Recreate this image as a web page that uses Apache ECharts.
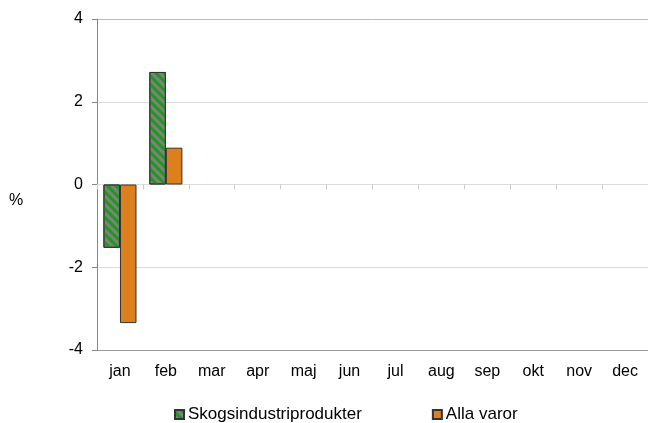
<!DOCTYPE html>
<html>
<head>
<meta charset="utf-8">
<script src="https://cdn.jsdelivr.net/npm/echarts@6/dist/echarts.min.js"></script>
<style>
body { margin: 0; background: #fff; }
#main { width: 648px; height: 423px; }
</style>
</head>
<body>
<div id="main"></div>
<script>
// data
var months = ['jan', 'feb', 'mar', 'apr', 'maj', 'jun', 'jul', 'aug', 'sep', 'okt', 'nov', 'dec'];
var skog = [-1.53, 2.72, null, null, null, null, null, null, null, null, null, null];
var alla = [-3.35, 0.89, null, null, null, null, null, null, null, null, null, null];
var seriesNames = ['Skogsindustriprodukter', 'Alla varor'];

var chartDom = document.getElementById('main');
var myChart = echarts.init(chartDom);
var option;

option = {
    animation: false,
    textStyle: { fontFamily: 'Liberation Sans, Arial, sans-serif' },
    grid: { left: 97, top: 19, width: 555, height: 331 },
    graphic: [
        { type: 'text', left: 9, top: 193, style: { text: '%', fontSize: 16, fill: '#000', fontFamily: 'Liberation Sans' } }
    ],
    legend: {
        top: 406,
        left: 174,
        padding: 0,
        icon: 'rect',
        itemWidth: 9,
        itemHeight: 9,
        itemGap: 70,
        textStyle: { fontSize: 17, color: '#000', padding: [0, 0, 0, -1] },
        data: seriesNames
    },
    xAxis: [
        {
            type: 'category',
            data: months,
            position: 'bottom',
            axisLine: { onZero: false, lineStyle: { color: '#999' } },
            axisTick: { show: false },
            axisLabel: { fontSize: 16, color: '#000', margin: 14 }
        },
        {
            // zero line with the small ticks between months
            type: 'category',
            data: months,
            position: 'bottom',
            axisLine: { onZero: true, lineStyle: { color: '#ddd' } },
            axisTick: { show: true, length: 5, lineStyle: { color: '#ccc' } },
            axisLabel: { show: false }
        }
    ],
    yAxis: {
        type: 'value',
        min: -4,
        max: 4,
        interval: 2,
        axisLine: { show: true, lineStyle: { color: '#888' } },
        axisTick: { show: true, length: 5, lineStyle: { color: '#888' } },
        axisLabel: { fontSize: 16, color: '#000', margin: 14 },
        splitLine: { lineStyle: { color: ['#999', '#ddd', '#ddd', '#ddd', '#bbb'] } }
    },
    series: [
        {
            name: seriesNames[0],
            type: 'bar',
            xAxisIndex: 0,
            data: skog,
            barGap: 0,
            barCategoryGap: '28%',
            itemStyle: {
                color: '#808080',
                borderColor: '#333',
                borderWidth: 1,
                decal: {
                    symbol: 'rect',
                    color: '#1c9a1c',
                    dashArrayX: [1, 0],
                    dashArrayY: [2.5, 2.5],
                    rotation: Math.PI / 4
                }
            }
        },
        {
            name: seriesNames[1],
            type: 'bar',
            xAxisIndex: 0,
            data: alla,
            barGap: 0,
            barCategoryGap: '28%',
            itemStyle: {
                color: '#dc7f1c',
                borderColor: '#333',
                borderWidth: 1
            }
        }
    ]
};

option && myChart.setOption(option);
</script>
</body>
</html>
